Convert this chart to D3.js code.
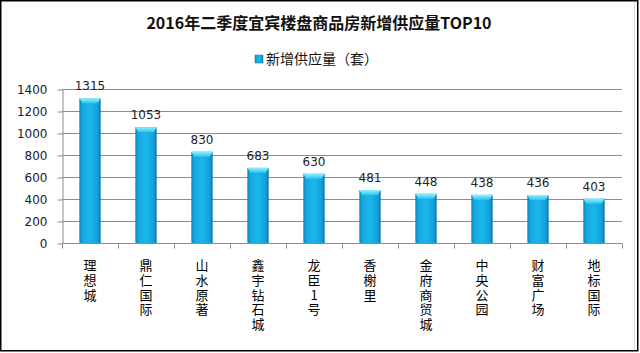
<!DOCTYPE html>
<html>
<head>
<meta charset="utf-8">
<script src="https://cdn.jsdelivr.net/npm/d3@7"></script>
<style>
  body { margin: 0; background: #fff; }
  svg { display: block; }
  .cat { writing-mode: vertical-rl; text-orientation: upright; }
</style>
</head>
<body>
<svg id="chart" width="640" height="353"></svg>
<script>
// Data
const projects = ['理想城', '鼎仁国际', '山水原著', '鑫宇钻石城', '龙臣1号', '香榭里', '金府商贸城', '中央公园', '财富广场', '地标国际'];
const supply = [1315, 1053, 830, 683, 630, 481, 448, 438, 436, 403];
const yTicks = [0, 200, 400, 600, 800, 1000, 1200, 1400];
const titleText = '2016年二季度宜宾楼盘商品房新增供应量TOP10';
const legendText = '新增供应量（套）';

const svg = d3.select('#chart');
const width = 640, height = 353;
const margin = { top: 89, right: 18, bottom: 110, left: 62 };

// frame
svg.append('rect')
  .attr('x', 0.75).attr('y', 0.75)
  .attr('width', width - 3).attr('height', height - 3)
  .attr('fill', '#fff')
  .attr('stroke', '#000').attr('stroke-width', 1.5);
svg.append('line')
  .attr('x1', 634.5).attr('x2', 634.5).attr('y1', 2).attr('y2', 350)
  .attr('stroke', '#ddd');

// Scales
const xScale = d3.scaleBand()
  .domain(projects)
  .range([margin.left, width - margin.right])
  .paddingInner(0.62).paddingOuter(0.31);

const yScale = d3.scaleLinear()
  .domain([0, 1400])
  .range([height - margin.bottom, margin.top]);

// gradients for bars
const defs = svg.append('defs');
const grad = defs.append('linearGradient').attr('id', 'barGrad')
  .attr('x1', '0%').attr('x2', '100%').attr('y1', '0%').attr('y2', '0%');
grad.append('stop').attr('offset', '0%').attr('stop-color', '#0b7fb0');
grad.append('stop').attr('offset', '12%').attr('stop-color', '#14a6dc');
grad.append('stop').attr('offset', '50%').attr('stop-color', '#1cb6ec');
grad.append('stop').attr('offset', '88%').attr('stop-color', '#129fd6');
grad.append('stop').attr('offset', '100%').attr('stop-color', '#0a6f9c');
const capGrad = defs.append('linearGradient').attr('id', 'capGrad')
  .attr('x1', '0%').attr('x2', '0%').attr('y1', '0%').attr('y2', '100%');
capGrad.append('stop').attr('offset', '0%').attr('stop-color', '#8ff0ff');
capGrad.append('stop').attr('offset', '100%').attr('stop-color', '#2cc6f0');

// Gridlines
svg.append('g')
  .selectAll('line')
  .data(yTicks.filter(d => d > 0))
  .join('line')
  .attr('x1', margin.left).attr('x2', width - margin.right)
  .attr('y1', d => Math.round(yScale(d)) + 0.5)
  .attr('y2', d => Math.round(yScale(d)) + 0.5)
  .attr('stroke', '#8c8c8c').attr('stroke-width', 1);

// Y axis
const yAxis = svg.append('g')
  .attr('transform', `translate(${margin.left + 0.5}, 0.5)`)
  .call(d3.axisLeft(yScale).tickValues(yTicks).tickFormat(d3.format('d'))
    .tickSize(5).tickPadding(6).tickSizeOuter(0));
yAxis.select('.domain').attr('stroke', '#8c8c8c');
yAxis.selectAll('.tick line').attr('stroke', '#8c8c8c');
yAxis.selectAll('.tick text')
  .attr('font-family', 'DejaVu Sans, Verdana, sans-serif')
  .attr('font-size', 12).attr('fill', '#222')
  .attr('dx', -4);

// X axis (ticks at band boundaries)
const xAxisY = Math.round(yScale(0)) + 0.5;
svg.append('line')
  .attr('x1', margin.left).attr('x2', width - margin.right)
  .attr('y1', xAxisY).attr('y2', xAxisY)
  .attr('stroke', '#8c8c8c');
const step = xScale.step();
const bounds = d3.range(projects.length + 1).map(i => margin.left + i * step);
svg.append('g').selectAll('line')
  .data(bounds)
  .join('line')
  .attr('x1', d => Math.round(d) + 0.5).attr('x2', d => Math.round(d) + 0.5)
  .attr('y1', xAxisY).attr('y2', xAxisY + 5)
  .attr('stroke', '#8c8c8c');

// Bars
const bars = svg.append('g').selectAll('g')
  .data(projects.map((p, i) => ({ name: p, value: supply[i] })))
  .join('g');

bars.append('rect')
  .attr('x', d => xScale(d.name))
  .attr('y', d => yScale(d.value))
  .attr('width', xScale.bandwidth())
  .attr('height', d => yScale(0) - yScale(d.value))
  .attr('fill', 'url(#barGrad)');

bars.append('path')
  .attr('d', d => {
    const x0 = xScale(d.name), w = xScale.bandwidth(), y0 = yScale(d.value);
    return `M${x0},${y0} L${x0 + w},${y0} L${x0 + w - 3},${y0 + 5} L${x0 + 3},${y0 + 5} Z`;
  })
  .attr('fill', 'url(#capGrad)');

// Value labels
bars.append('text')
  .attr('x', d => xScale(d.name) + xScale.bandwidth() / 2)
  .attr('y', d => yScale(d.value) - 8)
  .attr('text-anchor', 'middle')
  .attr('font-family', 'DejaVu Sans, Verdana, sans-serif')
  .attr('font-size', 12)
  .attr('fill', '#222')
  .text(d => d.value);

// Category labels, written top to bottom
svg.append('g').selectAll('text')
  .data(projects)
  .join('text')
  .attr('class', 'cat')
  .attr('x', d => xScale(d) + xScale.bandwidth() / 2)
  .attr('y', 259)
  .attr('font-family', 'Noto Sans CJK SC, sans-serif')
  .attr('font-size', 13)
  .attr('letter-spacing', 1.6)
  .attr('fill', '#000')
  .text(d => d);

// Title
svg.append('text')
  .attr('x', 319).attr('y', 29)
  .attr('text-anchor', 'middle')
  .attr('font-family', 'Noto Sans CJK SC, sans-serif')
  .attr('font-weight', 'bold')
  .attr('font-size', 16)
  .attr('fill', '#111')
  .text(titleText);

// Legend
const legend = svg.append('g').attr('transform', 'translate(255, 55)');
legend.append('rect')
  .attr('width', 8).attr('height', 8)
  .attr('fill', 'url(#barGrad)')
  .attr('stroke', '#0b7fb0').attr('stroke-width', 0.5);
legend.append('text')
  .attr('x', 11).attr('y', 8.5)
  .attr('font-family', 'Noto Sans CJK SC, sans-serif')
  .attr('font-size', 14)
  .attr('fill', '#111')
  .text(legendText);
</script>
</body>
</html>
